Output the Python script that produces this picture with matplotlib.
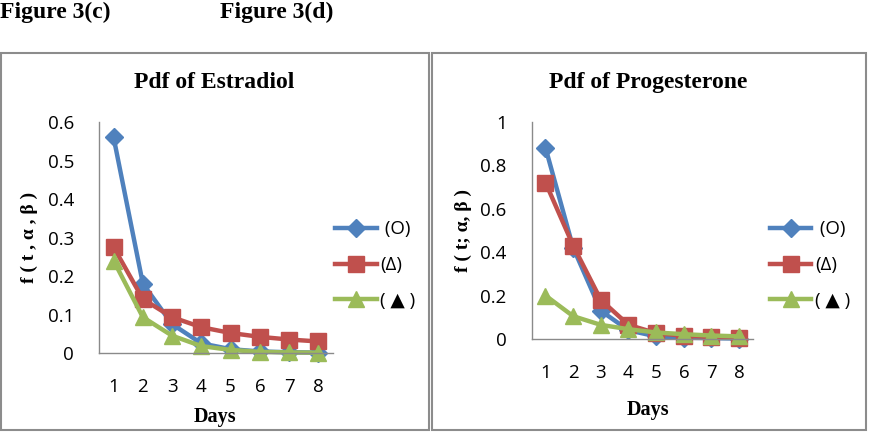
import matplotlib
matplotlib.use('Agg')
import matplotlib.pyplot as plt
from matplotlib.patches import Rectangle
from matplotlib.ticker import FuncFormatter

# data
days = [1, 2, 3, 4, 5, 6, 7, 8]
series_labels = [' (O)', '(Δ)', '( ▲ )']

estradiol_o = [0.56, 0.18, 0.075, 0.025, 0.01, 0.004, 0.002, 0.001]
estradiol_delta = [0.275, 0.14, 0.093, 0.067, 0.052, 0.042, 0.035, 0.03]
estradiol_tri = [0.24, 0.093, 0.045, 0.018, 0.008, 0.003, 0.0015, 0.0008]

progesterone_o = [0.88, 0.42, 0.13, 0.04, 0.012, 0.006, 0.004, 0.002]
progesterone_delta = [0.72, 0.43, 0.18, 0.065, 0.027, 0.015, 0.01, 0.006]
progesterone_tri = [0.20, 0.105, 0.065, 0.045, 0.03, 0.022, 0.016, 0.012]

colors = ['#4F81BD', '#C0504D', '#9BBB59']
markers = ['D', 's', '^']
serif = ['Liberation Serif', 'DejaVu Serif']
sans = ['Open Sans', 'DejaVu Sans']

fig = plt.figure(figsize=(8.69, 4.34), dpi=100)

# panel frames
fig.patches.append(Rectangle((0.001, 0.009), 0.493, 0.868, transform=fig.transFigure,
                             fill=False, edgecolor='#8c8c8c', lw=1.5))
fig.patches.append(Rectangle((0.497, 0.009), 0.499, 0.868, transform=fig.transFigure,
                             fill=False, edgecolor='#8c8c8c', lw=1.5))

fig.text(0.0, 0.972, 'Figure 3(c)', family=serif, weight='bold', fontsize=17, va='center')
fig.text(0.253, 0.972, 'Figure 3(d)', family=serif, weight='bold', fontsize=17, va='center')


def draw_panel(rect, values, ymax, ystep, title, ylabel, title_x, ylabel_x, ylabel_y,
               days_y, legend_x):
    ax = fig.add_axes(rect)
    for vals, lab, c, m in zip(values, series_labels, colors, markers):
        ax.plot(days, vals, color=c, lw=3.2, marker=m, markersize=11 if m != 'D' else 9,
                markerfacecolor=c, markeredgecolor=c, label=lab, clip_on=False)
    ax.set_xlim(0.5, 8.5)
    ax.set_ylim(0, ymax)
    ax.set_xticks(days)
    ticks = [round(i * ystep, 2) for i in range(int(round(ymax / ystep)) + 1)]
    ax.set_yticks(ticks)
    ax.yaxis.set_major_formatter(FuncFormatter(lambda v, p: '%g' % v))
    for s in ['top', 'right']:
        ax.spines[s].set_visible(False)
    for s in ['left', 'bottom']:
        ax.spines[s].set_color('#8a8a8a')
        ax.spines[s].set_linewidth(1.0)
    ax.tick_params(length=0, labelsize=13.5)
    ax.tick_params(axis='x', pad=18)
    ax.tick_params(axis='y', pad=18)
    for t in ax.get_xticklabels() + ax.get_yticklabels():
        t.set_family(sans)
    fig.text(title_x, 0.809, title, family=serif, weight='bold', fontsize=17,
             ha='center', va='center')
    fig.text(ylabel_x, ylabel_y, ylabel, family=serif, weight='bold', fontsize=14,
             rotation=90, ha='center', va='center')
    fig.text(title_x, days_y, 'Days', family=serif, weight='bold', fontsize=14.5,
             ha='center', va='center')
    ax.legend(loc='center left', bbox_to_anchor=(legend_x, 0.389),
              bbox_transform=fig.transFigure, frameon=False, numpoints=1,
              handlelength=2.2, handletextpad=0.2, labelspacing=0.95,
              borderaxespad=0, borderpad=0,
              prop={'family': sans, 'size': 13.5})
    return ax


draw_panel([0.1139, 0.1866, 0.2693, 0.5323],
           [estradiol_o, estradiol_delta, estradiol_tri], 0.6, 0.1,
           'Pdf of Estradiol', 'f ( t , α , β )', 0.247, 0.034, 0.452, 0.040, 0.386)

draw_panel([0.6118, 0.2189, 0.2547, 0.5007],
           [progesterone_o, progesterone_delta, progesterone_tri], 1.0, 0.2,
           'Pdf of Progesterone', 'f ( t; α, β )', 0.746, 0.533, 0.468, 0.055, 0.886)

fig.savefig('out.png', dpi=100)
